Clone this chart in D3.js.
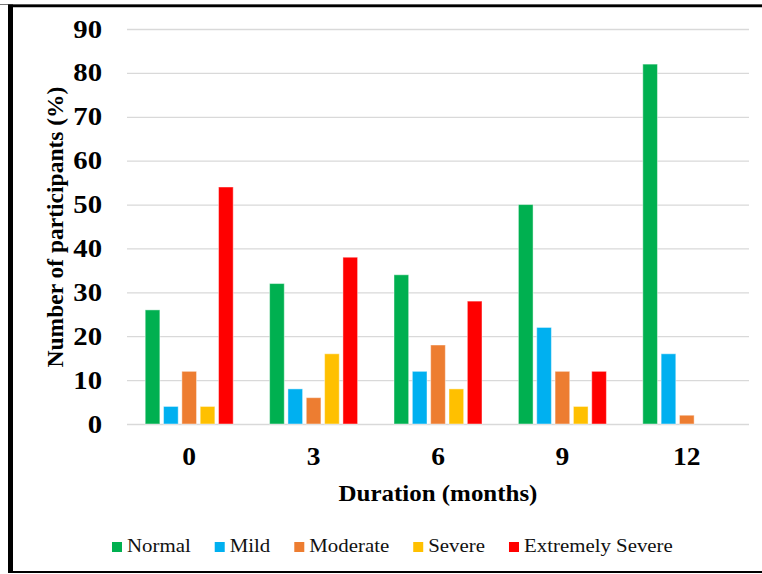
<!DOCTYPE html>
<html>
<head>
<meta charset="utf-8">
<script src="https://cdn.jsdelivr.net/npm/d3@7/dist/d3.min.js"></script>
<style>
  html, body { margin: 0; padding: 0; background: #fff; }
  svg { display: block; }
  text { font-family: "Liberation Serif", "Times New Roman", serif; }
</style>
</head>
<body>
<svg id="chart" width="762" height="574"></svg>
<script>
// Duration groups (months) along the x axis
const durations = ["0", "3", "6", "9", "12"];
// Severity levels, one bar per level inside each group
const levels = ["Normal", "Mild", "Moderate", "Severe", "Extremely Severe"];
const levelColors = ["#00B050", "#00B0F0", "#ED7D31", "#FFC000", "#FF0000"];
// Share of participants (%) per severity level, ordered by duration
const normal   = [26, 32, 34, 50, 82];
const mild     = [4, 8, 12, 22, 16];
const moderate = [12, 6, 18, 12, 2];
const severe   = [4, 16, 8, 4, 0];
const extreme  = [54, 38, 28, 12, 0];
const yTicks = [0, 10, 20, 30, 40, 50, 60, 70, 80, 90];

const seriesValues = [normal, mild, moderate, severe, extreme];
const rows = [];
durations.forEach((d, i) => {
  levels.forEach((lv, j) => rows.push({ duration: d, level: lv, value: seriesValues[j][i], color: levelColors[j] }));
});

const svg = d3.select("#chart");

// outer frame
svg.append("line").attr("x1", 0).attr("x2", 762).attr("y1", 4.5).attr("y2", 4.5)
  .attr("stroke", "#777").attr("stroke-width", 1);
svg.append("line").attr("x1", 8).attr("x2", 762).attr("y1", 6).attr("y2", 6)
  .attr("stroke", "#000").attr("stroke-width", 2.5);
svg.append("line").attr("x1", 10.5).attr("x2", 10.5).attr("y1", 4.5).attr("y2", 573)
  .attr("stroke", "#000").attr("stroke-width", 5);
svg.append("line").attr("x1", 8).attr("x2", 762).attr("y1", 572).attr("y2", 572)
  .attr("stroke", "#000").attr("stroke-width", 2);

const plotLeft = 127, plotRight = 749, plotTop = 29, plotBottom = 424;

const y = d3.scaleLinear().domain([0, 90]).range([plotBottom, plotTop]);
const x0 = d3.scaleBand().domain(durations).range([plotLeft, plotRight]).padding(0);
const groupWidth = 88;
const x1 = d3.scaleBand().domain(levels).range([0, groupWidth]).paddingInner(0.2).paddingOuter(0);
const groupOffset = (x0.bandwidth() - groupWidth) / 2;

// horizontal gridlines
svg.append("g")
  .attr("transform", `translate(${plotLeft},0)`)
  .call(d3.axisLeft(y).tickValues(yTicks).tickSize(-(plotRight - plotLeft)).tickFormat(""))
  .call(g => g.select(".domain").remove())
  .call(g => g.selectAll(".tick line").attr("stroke", "#d9d9d9").attr("stroke-width", 1.3));

// y tick labels
svg.append("g").selectAll("text").data(yTicks).join("text")
  .attr("transform", d => `translate(102,${y(d)}) scale(1.15,1)`)
  .attr("dy", "0.34em")
  .attr("text-anchor", "end")
  .attr("font-size", 25)
  .attr("font-weight", "bold")
  .attr("fill", "#000")
  .text(d => d);

// bars
svg.append("g").selectAll("rect").data(rows).join("rect")
  .attr("x", d => x0(d.duration) + groupOffset + x1(d.level))
  .attr("y", d => y(d.value))
  .attr("width", x1.bandwidth())
  .attr("height", d => y(0) - y(d.value))
  .attr("fill", d => d.color)
  .attr("stroke", "#fff")
  .attr("stroke-opacity", 0.45)
  .attr("stroke-width", 1);

// x tick labels
svg.append("g").selectAll("text").data(durations).join("text")
  .attr("transform", d => `translate(${x0(d) + x0.bandwidth() / 2},465) scale(1.1,1)`)
  .attr("text-anchor", "middle")
  .attr("font-size", 25)
  .attr("font-weight", "bold")
  .attr("fill", "#000")
  .text(d => d);

// axis titles
svg.append("text")
  .attr("transform", "translate(438,501) scale(1.04,1)")
  .attr("text-anchor", "middle")
  .attr("font-size", 24)
  .attr("font-weight", "bold")
  .attr("fill", "#000")
  .text("Duration (months)");

svg.append("text")
  .attr("transform", "translate(63,227) rotate(-90)")
  .attr("text-anchor", "middle")
  .attr("font-size", 23.5)
  .attr("font-weight", "bold")
  .attr("fill", "#000")
  .text("Number of participants (%)");

// legend
const legend = svg.append("g");
let lx = 112;
levels.forEach((lv, j) => {
  legend.append("rect")
    .attr("x", lx).attr("y", 542).attr("width", 10).attr("height", 10)
    .attr("fill", levelColors[j]);
  const t = legend.append("text")
    .attr("transform", `translate(${lx + 15},552) scale(1.07,1)`)
    .attr("font-size", 19.5)
    .attr("fill", "#111")
    .text(lv);
  lx += 15 + t.node().getComputedTextLength() * 1.07 + 24;
});
</script>
</body>
</html>
